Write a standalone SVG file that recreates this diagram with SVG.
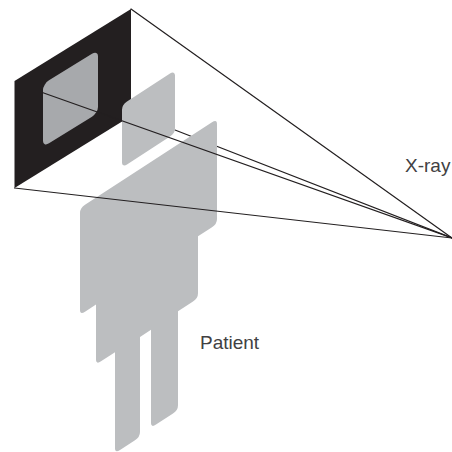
<svg xmlns="http://www.w3.org/2000/svg" width="452" height="452" viewBox="0 0 452 452">
<style>
.ray{stroke:#231f20;stroke-width:1.2;fill:none;stroke-linecap:round}
.lbl{font-family:"Liberation Sans",Arial,sans-serif;font-size:19px;fill:#414042}
.body{fill:#bcbec0}
</style>
<rect width="452" height="452" fill="#ffffff"/>
<g id="detector">
<polygon points="14.5,81 131,9 131,116 14.5,188" fill="#231f20"/>
<rect x="43" y="110.6" width="55" height="63" rx="6" ry="6" fill="#a7a9ac" transform="matrix(1 -0.618 0 1 0 0)"/>
</g>
<g id="ray-hidden">
<line class="ray" x1="175" y1="130" x2="452" y2="238"/>
</g>
<g id="head">
<rect class="body" x="122" y="184" width="53" height="63" rx="5" ry="5" transform="matrix(1 -0.65 0 1 0 0)"/>
</g>
<g id="patient">
<path class="body" transform="matrix(1 -0.65 0 1 0 0)" d="M80,265 Q80,260 85,260 L212,260 Q217,260 217,265 L217,360 Q217,365 212,365 L198,365 L198,422 Q198,427 193,427 L178,427 L178,521 Q178,526 173,526 L156,526 Q151,526 151,521 L151,428 L140,428 L140,523 Q140,528 135,528 L120,528 Q115,528 115,523 L115,427 L101,427 Q96,427 96,422 L96,367 L85,367 Q80,367 80,362 Z"/>
</g>
<g id="connectors">
<line class="ray" x1="131" y1="9" x2="452" y2="238"/>
<line class="ray" x1="43" y1="92.7" x2="452" y2="238"/>
<line class="ray" x1="14.5" y1="188" x2="452" y2="238"/>
</g>
<g id="labels">
<text class="lbl" x="405" y="172">X-ray</text>
<text class="lbl" x="200" y="349">Patient</text>
</g>
</svg>
